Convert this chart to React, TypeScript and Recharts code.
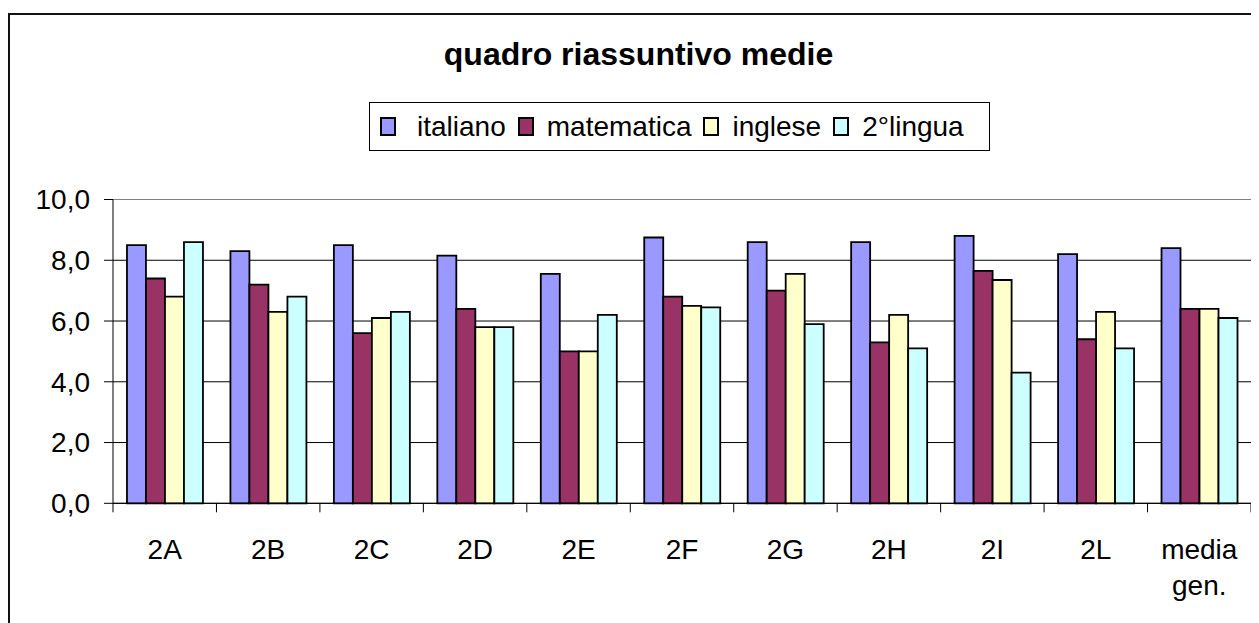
import { BarChart, Bar, XAxis, YAxis, CartesianGrid, Legend, ReferenceLine } from 'recharts';

const CATEGORIES = ['2A', '2B', '2C', '2D', '2E', '2F', '2G', '2H', '2I', '2L', 'media gen.'];
const ITALIANO = [8.5, 8.3, 8.5, 8.15, 7.55, 8.75, 8.6, 8.6, 8.8, 8.2, 8.4];
const MATEMATICA = [7.4, 7.2, 5.6, 6.4, 5.0, 6.8, 7.0, 5.3, 7.65, 5.4, 6.4];
const INGLESE = [6.8, 6.3, 6.1, 5.8, 5.0, 6.5, 7.55, 6.2, 7.35, 6.3, 6.4];
const LINGUA2 = [8.6, 6.8, 6.3, 5.8, 6.2, 6.45, 5.9, 5.1, 4.3, 5.1, 6.1];
const Y_TICKS = [0, 2, 4, 6, 8, 10];

const SERIES = [
  { key: 'italiano', color: '#9999FF' },
  { key: 'matematica', color: '#993366' },
  { key: 'inglese', color: '#FFFFCC' },
  { key: '2°lingua', color: '#CCFFFF' },
];

const data = CATEGORIES.map((name, i) => ({
  name,
  italiano: ITALIANO[i],
  matematica: MATEMATICA[i],
  inglese: INGLESE[i],
  '2°lingua': LINGUA2[i],
}));

const FONT = '"Liberation Sans", Arial, sans-serif';
const W = 1251;
const H = 615;
const MARGIN = { top: 191.5, right: 8, left: 0, bottom: 19.7 };
const Y_AXIS_W = 105;
const BAND = (W - MARGIN.right - MARGIN.left - Y_AXIS_W) / CATEGORIES.length;

const CategoryTick = (props: any) => {
  const { x, y, payload, index } = props;
  const lines = String(payload.value).split(' ');
  const left = x - BAND / 2;
  return (
    <g>
      <line x1={left} y1={y} x2={left} y2={y + 9} stroke="#000" />
      {index === CATEGORIES.length - 1 && (
        <line x1={x + BAND / 2} y1={y} x2={x + BAND / 2} y2={y + 9} stroke="#000" />
      )}
      {lines.map((l, i) => (
        <text key={i} x={x} y={y + 56 + i * 36} textAnchor="middle" fontSize={28} fontFamily={FONT} fill="#000">
          {l}
        </text>
      ))}
    </g>
  );
};

const LegendBox = () => (
  <div
    style={{
      display: 'flex',
      alignItems: 'center',
      width: 621,
      height: 49,
      boxSizing: 'border-box',
      border: '1px solid #000',
      paddingLeft: 10,
      fontFamily: FONT,
      fontSize: 28,
      color: '#000',
      background: '#fff',
    }}
  >
    {SERIES.map((s, i) => (
      <span key={s.key} style={{ display: 'flex', alignItems: 'center', marginRight: 12 }}>
        <span
          style={{
            width: 12,
            height: 15,
            border: '2px solid #000',
            background: s.color,
            marginRight: i === 0 ? 21 : 13,
            display: 'inline-block',
          }}
        />
        {s.key}
      </span>
    ))}
  </div>
);

export default function App() {
  return (
    <div style={{ position: 'relative', width: W, height: H }}>
      <div
        style={{
          position: 'absolute',
          left: 0,
          top: 5,
          width: W,
          height: H - 5,
          borderLeft: '2px solid #111',
          borderTop: '2px solid #111',
          boxSizing: 'border-box',
        }}
      />
      <div
        style={{
          position: 'absolute',
          left: 630.5,
          top: 31,
          transform: 'translateX(-50%)',
          whiteSpace: 'nowrap',
          fontFamily: FONT,
          fontWeight: 'bold',
          fontSize: 32,
          lineHeight: '30px',
          color: '#000',
        }}
      >
        quadro riassuntivo medie
      </div>
      <BarChart width={W} height={H} data={data} margin={MARGIN} barCategoryGap="13.5%" barGap={0}>
        <CartesianGrid vertical={false} stroke="#000" />
        <XAxis
          dataKey="name"
          interval={0}
          height={100}
          tickSize={0}
          tickMargin={0}
          tickLine={false}
          axisLine={{ stroke: '#000' }}
          tick={<CategoryTick />}
        />
        <YAxis
          domain={[0, 10]}
          ticks={Y_TICKS}
          width={Y_AXIS_W}
          tickSize={9}
          tickMargin={14}
          axisLine={{ stroke: '#000' }}
          tickLine={{ stroke: '#000' }}
          tick={{ fontSize: 28, fontFamily: FONT, fill: '#000' }}
          tickFormatter={(v: number) => v.toFixed(1).replace('.', ',')}
        />
        <YAxis
          yAxisId="frame"
          orientation="right"
          width={0}
          domain={[0, 10]}
          tick={false}
          tickLine={false}
          axisLine={{ stroke: '#808080' }}
        />
        <ReferenceLine y={10} stroke="#808080" />
        <Legend
          layout="horizontal"
          verticalAlign="middle"
          align="center"
          content={<LegendBox />}
          wrapperStyle={{ top: 94, left: 361, width: 'auto' }}
        />
        {SERIES.map((s) => (
          <Bar key={s.key} dataKey={s.key} fill={s.color} stroke="#000" strokeWidth={1.8} isAnimationActive={false} />
        ))}
      </BarChart>
    </div>
  );
}
